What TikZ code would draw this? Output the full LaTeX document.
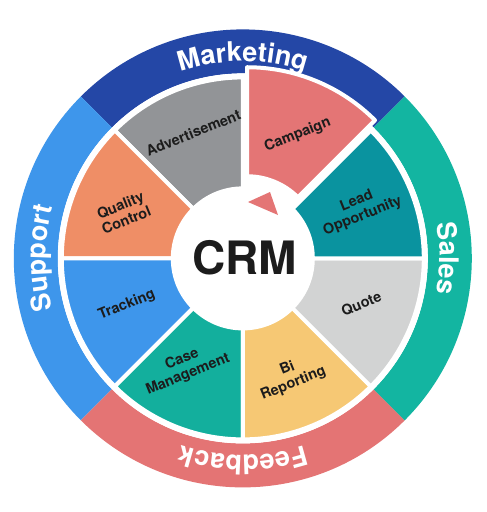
\documentclass[tikz,border=0pt]{standalone}
\usepackage{fontspec}
\setmainfont{TeX Gyre Heros}
\usetikzlibrary{decorations.text}
\definecolor{mktblue}{HTML}{2447A6}
\definecolor{salesteal}{HTML}{13B5A1}
\definecolor{feedred}{HTML}{E47474}
\definecolor{suppblue}{HTML}{3E96EB}
\definecolor{advgrey}{HTML}{929497}
\definecolor{camppink}{HTML}{E47575}
\definecolor{leadteal}{HTML}{0A939F}
\definecolor{quotegrey}{HTML}{D2D3D3}
\definecolor{biyellow}{HTML}{F6C874}
\definecolor{caseteal}{HTML}{13AF9D}
\definecolor{trackblue}{HTML}{3E96EB}
\definecolor{qcorange}{HTML}{EF8E66}
\definecolor{labelink}{HTML}{1C1C1C}
\tikzset{
  wedge/.style={fill=#1,draw=white,line width=4pt,line join=round},
  seglabel/.style={font=\bfseries\fontsize{14.5}{16}\selectfont,text=labelink,align=center,rotate=22,inner sep=0pt},
  bandtext/.style={decorate,decoration={text along path,text align=center,
      text={|\color{white}\bfseries\fontsize{27}{30}\selectfont|#1}}}
}
\begin{document}
\begin{tikzpicture}[x=1pt,y=1pt]
            \def\ri{72}
            \def\rw{181}
            \def\rb{185}
            \def\ro{229}
            \def\rt{197}
            \def\dx{11}
            \useasboundingbox (-242.8,-253.6) rectangle (244.2,258.4);
            % outer bands
            \fill[mktblue] (45:\rb) -- (45:\ro) arc[start angle=45,end angle=135,radius=\ro] -- (135:\rb) arc[start angle=135,end angle=45,radius=\rb] -- cycle;
            \fill[suppblue] (135:\rb) -- (135:\ro) arc[start angle=135,end angle=225,radius=\ro] -- (225:\rb) arc[start angle=225,end angle=135,radius=\rb] -- cycle;
            \fill[feedred] (225:\rb) -- (225:\ro) arc[start angle=225,end angle=315,radius=\ro] -- (315:\rb) arc[start angle=315,end angle=225,radius=\rb] -- cycle;
            \fill[salesteal] (-45:\rb) -- (-45:\ro) arc[start angle=-45,end angle=45,radius=\ro] -- (45:\rb) arc[start angle=45,end angle=-45,radius=\rb] -- cycle;
            \fill[white] (0,0) circle (\rb);
            % wedges
            \draw[wedge=advgrey] (0,0) -- (90:\rw) arc[start angle=90,end angle=135,radius=\rw] -- cycle;
            \draw[wedge=qcorange] (0,0) -- (135:\rw) arc[start angle=135,end angle=180,radius=\rw] -- cycle;
            \draw[wedge=trackblue] (0,0) -- (180:\rw) arc[start angle=180,end angle=225,radius=\rw] -- cycle;
            \draw[wedge=caseteal] (0,0) -- (225:\rw) arc[start angle=225,end angle=270,radius=\rw] -- cycle;
            \draw[wedge=biyellow] (0,0) -- (270:\rw) arc[start angle=270,end angle=315,radius=\rw] -- cycle;
            \draw[wedge=quotegrey] (0,0) -- (315:\rw) arc[start angle=315,end angle=360,radius=\rw] -- cycle;
            \draw[wedge=leadteal] (0,0) -- (0:\rw) arc[start angle=0,end angle=45,radius=\rw] -- cycle;
            \fill[white] (0,0) circle (\ri);
            % campaign pulled out
            \draw[wedge=camppink,shift={(67.5:\dx)}] (45:\ri) -- (45:\rw) arc[start angle=45,end angle=90,radius=\rw] -- (90:\ri) arc[start angle=90,end angle=45,radius=\ri] -- cycle;
            \fill[camppink] (5.2,56.4) -- (27.2,66.4) -- (35.2,43.4) -- cycle;
            % band titles
            \path[bandtext=Marketing] (135:\rt) arc[start angle=135,end angle=45,radius=\rt];
            \path[bandtext=Sales] (45:\rt) arc[start angle=45,end angle=-45,radius=\rt];
            \path[bandtext=Feedback] (-45:\rt) arc[start angle=-45,end angle=-135,radius=\rt];
            \path[bandtext=Support] (-135:\rt) arc[start angle=-135,end angle=-225,radius=\rt];
            % labels
            \node[seglabel] (adv) at (111.5:135) {Advertisement};
            \node[seglabel] (camp) at (66:135) {Campaign};
            \node[seglabel] (lead) at (23:127) {Lead\\Opportunity};
            \node[seglabel] (quote) at (-21:127) {Quote};
            \node[seglabel] (bi) at (-68:127) {Bi\\Reporting};
            \node[seglabel] (case) at (-118:123) {Case\\Management};
            \node[seglabel] (track) at (-158:125) {Tracking};
            \node[seglabel] (qc) at (159:128) {Quality\\Control};
            \node[font=\bfseries\fontsize{46}{50}\selectfont,text=labelink,inner sep=0pt] (crm) at (2,1) {CRM};
            \end{tikzpicture}
\end{document}
